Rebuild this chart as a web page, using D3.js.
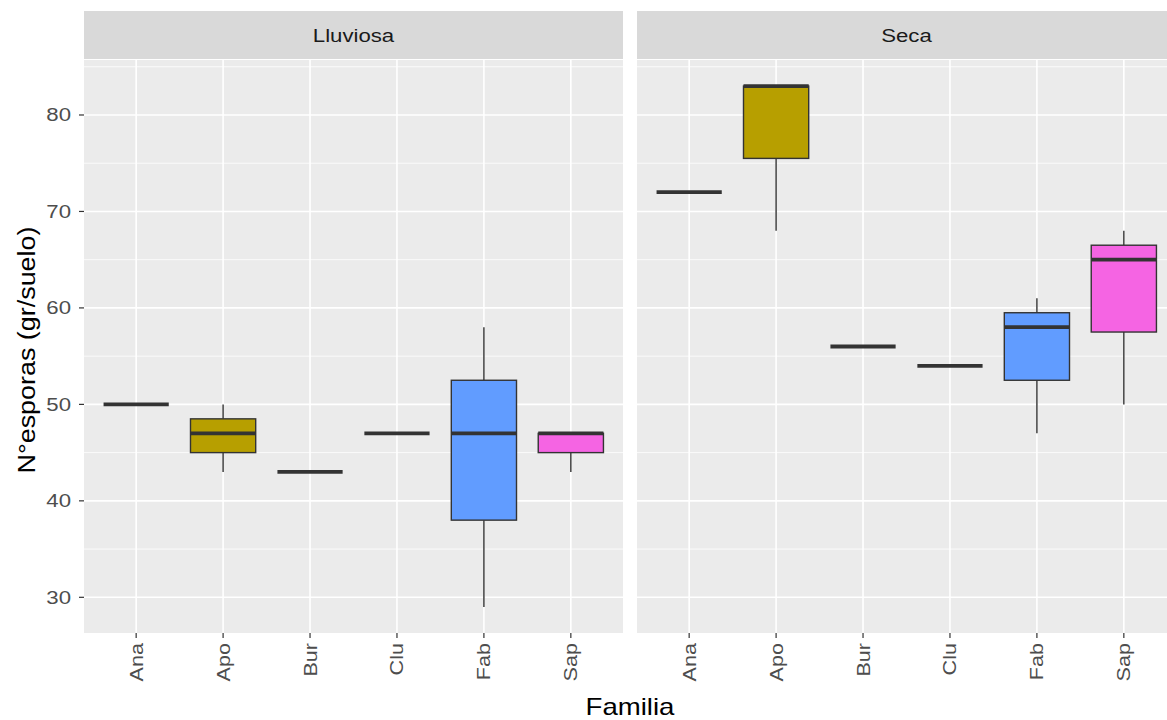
<!DOCTYPE html>
<html>
<head>
<meta charset="utf-8">
<script src="https://cdn.jsdelivr.net/npm/d3@7"></script>
<style>
  html, body { margin: 0; padding: 0; background: #fff; overflow: hidden; }
  svg { display: block; font-family: "Liberation Sans", Arial, sans-serif; }
</style>
</head>
<body>
<svg id="chart" width="1167" height="720"></svg>
<script>
// Families on the x axis, seasons as facets
const familias = ["Ana", "Apo", "Bur", "Clu", "Fab", "Sap"];
const estaciones = ["Lluviosa", "Seca"];
const colores = ["#F8766D", "#B79F00", "#00BA38", "#00BFC4", "#619CFF", "#F564E3"];

// Five-number summaries per family (whisker low, Q1, median, Q3, whisker high)
const lluviosaLow    = [50, 43,   43, 47, 29,   43];
const lluviosaQ1     = [50, 45,   43, 47, 38,   45];
const lluviosaMedian = [50, 47,   43, 47, 47,   47];
const lluviosaQ3     = [50, 48.5, 43, 47, 52.5, 47];
const lluviosaHigh   = [50, 50,   43, 47, 58,   47];

const secaLow    = [72, 68,   56, 54, 47,   50];
const secaQ1     = [72, 75.5, 56, 54, 52.5, 57.5];
const secaMedian = [72, 83,   56, 54, 58,   65];
const secaQ3     = [72, 83,   56, 54, 59.5, 66.5];
const secaHigh   = [72, 83,   56, 54, 61,   68];

const yTicks = [30, 40, 50, 60, 70, 80];
const yMinor = [35, 45, 55, 65, 75, 85];

function rows(low, q1, med, q3, high) {
  return familias.map((f, i) => ({
    familia: f, color: colores[i],
    low: low[i], q1: q1[i], median: med[i], q3: q3[i], high: high[i]
  }));
}
const panels = [
  { name: estaciones[0], data: rows(lluviosaLow, lluviosaQ1, lluviosaMedian, lluviosaQ3, lluviosaHigh) },
  { name: estaciones[1], data: rows(secaLow, secaQ1, secaMedian, secaQ3, secaHigh) }
];

const svg = d3.select("#chart");
const panelTop = 60, panelBottom = 633;
const panelW = 539, panelLefts = [84, 637];
const stripTop = 11, stripH = 48;

// Text placed at (x, y), optionally rotated, widened along its reading direction
function label(sel, x, y, rot, sx) {
  const s = sx || 1.2;
  return sel.append("text")
    .attr("transform", `translate(${x},${y})` + (rot ? ` rotate(${rot})` : "") + ` scale(${s},1)`);
}

// Shared y scale with 5% padding around the data range
const allVals = panels.flatMap(p => p.data.flatMap(d => [d.low, d.high]));
const yMin = d3.min(allVals), yMax = d3.max(allVals);
const pad = (yMax - yMin) * 0.05;
const y = d3.scaleLinear().domain([yMin - pad, yMax + pad]).range([panelBottom, panelTop]);

panels.forEach((p, pi) => {
  const left = panelLefts[pi];
  // discrete scale: 0.6 unit expansion on each side
  const x = d3.scalePoint().domain(familias)
    .range([left, left + panelW]).padding(0.6);
  const bw = x.step() * 0.75;

  const g = svg.append("g");

  // Panel background
  g.append("rect").attr("x", left).attr("y", panelTop)
    .attr("width", panelW).attr("height", panelBottom - panelTop)
    .attr("fill", "#EBEBEB");

  // Minor grid
  g.selectAll(".ymin").data(yMinor.filter(v => y(v) >= panelTop && y(v) <= panelBottom)).join("line")
    .attr("x1", left).attr("x2", left + panelW)
    .attr("y1", d => y(d)).attr("y2", d => y(d))
    .attr("stroke", "#fff").attr("stroke-width", 0.8);
  // Major grid
  g.selectAll(".ymaj").data(yTicks).join("line")
    .attr("x1", left).attr("x2", left + panelW)
    .attr("y1", d => y(d)).attr("y2", d => y(d))
    .attr("stroke", "#fff").attr("stroke-width", 1.6);
  g.selectAll(".xmaj").data(familias).join("line")
    .attr("x1", d => x(d)).attr("x2", d => x(d))
    .attr("y1", panelTop).attr("y2", panelBottom)
    .attr("stroke", "#fff").attr("stroke-width", 1.6);

  // Strip
  g.append("rect").attr("x", left).attr("y", stripTop)
    .attr("width", panelW).attr("height", stripH).attr("fill", "#D9D9D9");
  label(g, left + panelW / 2, stripTop + stripH / 2 + 7)
    .attr("text-anchor", "middle")
    .attr("fill", "#1A1A1A").attr("font-size", 18.5).text(p.name);

  // Boxes
  const box = g.selectAll(".box").data(p.data).join("g");
  box.append("line")
    .attr("x1", d => x(d.familia)).attr("x2", d => x(d.familia))
    .attr("y1", d => y(d.high)).attr("y2", d => y(d.q3))
    .attr("stroke", "#333").attr("stroke-width", 1.4);
  box.append("line")
    .attr("x1", d => x(d.familia)).attr("x2", d => x(d.familia))
    .attr("y1", d => y(d.q1)).attr("y2", d => y(d.low))
    .attr("stroke", "#333").attr("stroke-width", 1.4);
  box.append("rect")
    .attr("x", d => x(d.familia) - bw / 2).attr("width", bw)
    .attr("y", d => y(d.q3)).attr("height", d => y(d.q1) - y(d.q3))
    .attr("fill", d => d.color).attr("stroke", "#333").attr("stroke-width", 1.4);
  box.append("line")
    .attr("x1", d => x(d.familia) - bw / 2).attr("x2", d => x(d.familia) + bw / 2)
    .attr("y1", d => y(d.median)).attr("y2", d => y(d.median))
    .attr("stroke", "#333").attr("stroke-width", 3.8);

  // X axis ticks and rotated labels
  const xt = g.selectAll(".xt").data(familias).join("g");
  xt.append("line")
    .attr("x1", d => x(d)).attr("x2", d => x(d))
    .attr("y1", panelBottom).attr("y2", panelBottom + 5)
    .attr("stroke", "#333").attr("stroke-width", 1.2);
  xt.each(function (d) {
    label(d3.select(this), x(d) + 6.5, panelBottom + 10, -90)
      .attr("text-anchor", "end")
      .attr("fill", "#4D4D4D").attr("font-size", 18).text(d);
  });

  // Y axis on the first panel only
  if (pi === 0) {
    const yt = g.selectAll(".yt").data(yTicks).join("g");
    yt.append("line")
      .attr("x1", left - 5).attr("x2", left)
      .attr("y1", d => y(d)).attr("y2", d => y(d))
      .attr("stroke", "#333").attr("stroke-width", 1.2);
    yt.each(function (d) {
      label(d3.select(this), left - 13, y(d) + 6.5)
        .attr("text-anchor", "end").attr("fill", "#4D4D4D")
        .attr("font-size", 18.5).text(d);
    });
  }
});

// Axis titles
label(svg, (panelLefts[0] + panelLefts[1] + panelW) / 2, 715)
  .attr("text-anchor", "middle").attr("fill", "#000").attr("font-size", 23)
  .text("Familia");
label(svg, 35, 350, -90, 1.17)
  .attr("text-anchor", "middle").attr("fill", "#000").attr("font-size", 23)
  .text("N°esporas (gr/suelo)");
</script>
</body>
</html>
